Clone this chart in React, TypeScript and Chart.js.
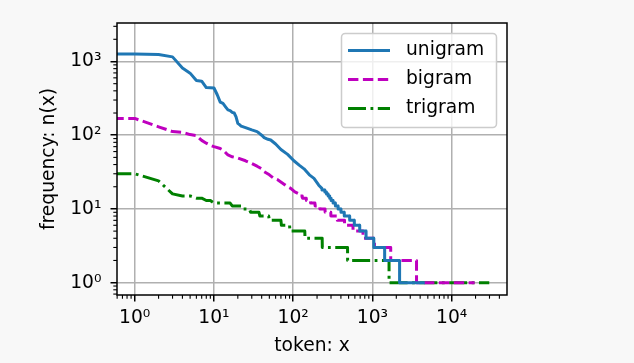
import React, { useEffect, useRef } from "react";
import { Chart, registerables } from "chart.js";

Chart.register(...registerables);

// Token frequencies by rank (rank = 0-based index, as in range(len(freqs))).
// "Head" points are individual ranks; "step" runs give, for each frequency,
// the last rank that still has that frequency.
const seriesLabels = ["unigram", "bigram", "trigram"];

const unigramHeadRanks = [0, 1, 2, 3, 4, 5, 6, 7, 8, 9, 10, 11, 12, 13, 14, 15, 16, 17, 18, 19, 20, 21, 22, 25, 30, 35, 37, 40, 43, 48, 52, 60, 70, 85, 102, 120, 137, 160, 183, 210, 230];
const unigramHeadFreqs = [2261, 1267, 1245, 1155, 816, 695, 552, 541, 443, 440, 437, 354, 281, 270, 243, 221, 216, 204, 200, 177, 145, 139, 133, 127, 118, 112, 107, 100, 93, 88, 86, 76, 64, 55, 45, 39, 35, 29, 26, 21, 19];
const unigramStepFreqs = [18, 17, 16, 15, 14, 13, 12, 11, 10, 9, 8, 7, 6, 5, 4, 3, 2, 1];
const unigramStepEnds = [250, 262, 275, 288, 300, 318, 340, 368, 400, 440, 515, 590, 690, 830, 1040, 1425, 2200, 4579];

const bigramHeadRanks = [0, 1, 2, 3, 4, 5, 6, 7, 8, 9, 10, 12, 13, 15, 17, 20, 25, 29, 35, 40, 43, 50, 57, 63, 75, 85, 93, 105, 118];
const bigramHeadFreqs = [309, 169, 130, 112, 109, 102, 99, 85, 78, 73, 70, 66, 63, 54, 51, 49, 45, 42, 38, 35, 32, 29, 26, 25, 22, 20, 19, 17, 16];
const bigramStepFreqs = [15, 14, 13, 12, 11, 10, 9, 8, 7, 6, 5, 4, 3, 2, 1];
const bigramStepEnds = [130, 146, 165, 188, 216, 252, 298, 360, 444, 568, 760, 1060, 1700, 3600, 19500];

const trigramHeadRanks = [0, 1, 2, 3, 4, 5, 6, 7, 8, 9];
const trigramHeadFreqs = [59, 30, 24, 16, 15, 15, 14, 14, 13, 13];
const trigramStepFreqs = [12, 11, 10, 9, 8, 7, 6, 5, 4, 3, 2, 1];
const trigramStepEnds = [16, 22, 28, 37, 49, 70, 90, 140, 232, 485, 1620, 29800];

const xTickValues = [1, 10, 100, 1000, 10000];
const xTickLabels = ["10⁰", "10¹", "10²", "10³", "10⁴"];
const yTickValues = [1, 10, 100, 1000];
const yTickLabels = ["10⁰", "10¹", "10²", "10³"];

const xLimits = [0.5975, 49900];
const yLimits = [0.68, 3327];

const FONT = "'DejaVu Sans', sans-serif";
const FS = 18.7;
const LW = 3;

// matplotlib-style log clipping of non-positive x (rank 0)
function logClip(r: number) {
  return r > 0 ? r : 1e-300;
}

function buildSeries(headRanks: number[], headFreqs: number[], stepFreqs: number[], stepEnds: number[]) {
  const pts: { x: number; y: number }[] = headRanks.map((r, i) => ({ x: logClip(r), y: headFreqs[i] }));
  let prev = headRanks[headRanks.length - 1];
  stepFreqs.forEach((f, i) => {
    const end = stepEnds[i];
    pts.push({ x: prev + 1, y: f });
    if (end > prev + 1) pts.push({ x: end, y: f });
    prev = end;
  });
  return pts;
}

const bgPlugin = {
  id: "bg",
  beforeDraw(chart: any) {
    const { ctx, chartArea: a } = chart;
    ctx.save();
    ctx.fillStyle = "#f8f8f8";
    ctx.fillRect(0, 0, chart.width, chart.height);
    ctx.fillStyle = "#ffffff";
    ctx.fillRect(a.left, a.top, a.right - a.left, a.bottom - a.top);
    ctx.restore();
  },
};

function drawMinorTicks(ctx: CanvasRenderingContext2D, scale: any, horizontal: boolean, a: any) {
  const lo = Math.floor(Math.log10(scale.min));
  const hi = Math.ceil(Math.log10(scale.max));
  ctx.lineWidth = 1.1;
  ctx.strokeStyle = "#000";
  for (let e = lo; e <= hi; e++) {
    for (let m = 2; m <= 9; m++) {
      const v = m * Math.pow(10, e);
      if (v < scale.min || v > scale.max) continue;
      const p = scale.getPixelForValue(v);
      ctx.beginPath();
      if (horizontal) {
        ctx.moveTo(p, a.bottom);
        ctx.lineTo(p, a.bottom + 3.7);
      } else {
        ctx.moveTo(a.left, p);
        ctx.lineTo(a.left - 3.7, p);
      }
      ctx.stroke();
    }
  }
}

const overlayPlugin = {
  id: "overlay",
  afterDatasetsDraw(chart: any) {
    const { ctx, chartArea: a } = chart;
    ctx.save();
    // frame (spines)
    ctx.strokeStyle = "#000";
    ctx.lineWidth = 1.5;
    ctx.strokeRect(a.left, a.top, a.right - a.left, a.bottom - a.top);
    drawMinorTicks(ctx, chart.scales.x, true, a);
    drawMinorTicks(ctx, chart.scales.y, false, a);

    // legend inside the axes, upper right
    const bl = a.right - 165.5;
    const br = a.right - 10.5;
    const bt = a.top + 10.5;
    const bb = a.top + 104.5;
    const r = 3.7;
    ctx.beginPath();
    ctx.moveTo(bl + r, bt);
    ctx.lineTo(br - r, bt);
    ctx.arcTo(br, bt, br, bt + r, r);
    ctx.lineTo(br, bb - r);
    ctx.arcTo(br, bb, br - r, bb, r);
    ctx.lineTo(bl + r, bb);
    ctx.arcTo(bl, bb, bl, bb - r, r);
    ctx.lineTo(bl, bt + r);
    ctx.arcTo(bl, bt, bl + r, bt, r);
    ctx.closePath();
    ctx.fillStyle = "rgba(255,255,255,0.8)";
    ctx.fill();
    ctx.strokeStyle = "#cccccc";
    ctx.lineWidth = 1.5;
    ctx.stroke();

    chart.data.datasets.forEach((d: any, i: number) => {
      const y = bt + 17 + i * 29;
      ctx.strokeStyle = d.borderColor;
      ctx.lineWidth = d.borderWidth;
      ctx.lineCap = "butt";
      ctx.setLineDash(d.borderDash || []);
      ctx.beginPath();
      ctx.moveTo(bl + 6.5, y);
      ctx.lineTo(bl + 48.5, y);
      ctx.stroke();
      ctx.setLineDash([]);
      ctx.fillStyle = "#000";
      ctx.font = `${FS}px ${FONT}`;
      ctx.textBaseline = "middle";
      ctx.textAlign = "left";
      ctx.fillText(d.label, bl + 64.5, y);
    });
    ctx.restore();
  },
};

export default function App() {
  const ref = useRef<HTMLCanvasElement>(null);
  useEffect(() => {
    document.body.style.margin = "0";
    document.body.style.background = "#f8f8f8";
    const font = { family: FONT, size: FS };
    const common = {
      borderWidth: LW,
      borderJoinStyle: "round",
      borderCapStyle: "butt",
      pointRadius: 0,
      tension: 0,
      fill: false,
      clip: 0,
    };
    const chart = new Chart(ref.current as HTMLCanvasElement, {
      type: "line",
      data: {
        datasets: [
          {
            ...common,
            label: seriesLabels[0],
            data: buildSeries(unigramHeadRanks, unigramHeadFreqs, unigramStepFreqs, unigramStepEnds),
            borderColor: "#1f77b4",
          },
          {
            ...common,
            label: seriesLabels[1],
            data: buildSeries(bigramHeadRanks, bigramHeadFreqs, bigramStepFreqs, bigramStepEnds),
            borderColor: "#bf00bf",
            borderDash: [10.4, 4.5],
          },
          {
            ...common,
            label: seriesLabels[2],
            data: buildSeries(trigramHeadRanks, trigramHeadFreqs, trigramStepFreqs, trigramStepEnds),
            borderColor: "#008000",
            borderDash: [18, 4.5, 2.8, 4.5],
          },
        ] as any,
      },
      options: {
        responsive: false,
        animation: false,
        devicePixelRatio: 1,
        events: [],
        layout: { padding: { left: 0, top: 23, right: 127, bottom: 0 } },
        plugins: { legend: { display: false }, tooltip: { enabled: false } },
        scales: {
          x: {
            type: "logarithmic",
            min: xLimits[0],
            max: xLimits[1],
            afterBuildTicks: (s: any) => {
              s.ticks = xTickValues.map((v) => ({ value: v }));
            },
            afterFit: (s: any) => {
              s.height = 68;
            },
            grid: { color: "#b0b0b0", lineWidth: 1.5, drawTicks: true, tickLength: 6.5, tickColor: "#000", tickWidth: 1.5 },
            border: { display: false },
            ticks: {
              autoSkip: false,
              maxRotation: 0,
              minRotation: 0,
              padding: 5,
              color: "#000",
              font,
              callback: (_v: any, i: number) => xTickLabels[i],
            },
            title: { display: true, text: "token: x", color: "#000", font, padding: { top: 0, bottom: 6 } },
          },
          y: {
            type: "logarithmic",
            min: yLimits[0],
            max: yLimits[1],
            afterBuildTicks: (s: any) => {
              s.ticks = yTickValues.map((v) => ({ value: v }));
            },
            afterFit: (s: any) => {
              s.width = 117;
            },
            grid: { color: "#b0b0b0", lineWidth: 1.5, drawTicks: true, tickLength: 6.5, tickColor: "#000", tickWidth: 1.5 },
            border: { display: false },
            ticks: {
              autoSkip: false,
              padding: 9,
              color: "#000",
              font,
              callback: (_v: any, i: number) => yTickLabels[i],
            },
            title: { display: true, text: "frequency: n(x)", color: "#000", font, padding: { top: 38, bottom: 0 } },
          },
        },
      } as any,
      plugins: [bgPlugin, overlayPlugin],
    });
    return () => chart.destroy();
  }, []);
  return <canvas ref={ref} width={634} height={363} style={{ display: "block" }} />;
}
